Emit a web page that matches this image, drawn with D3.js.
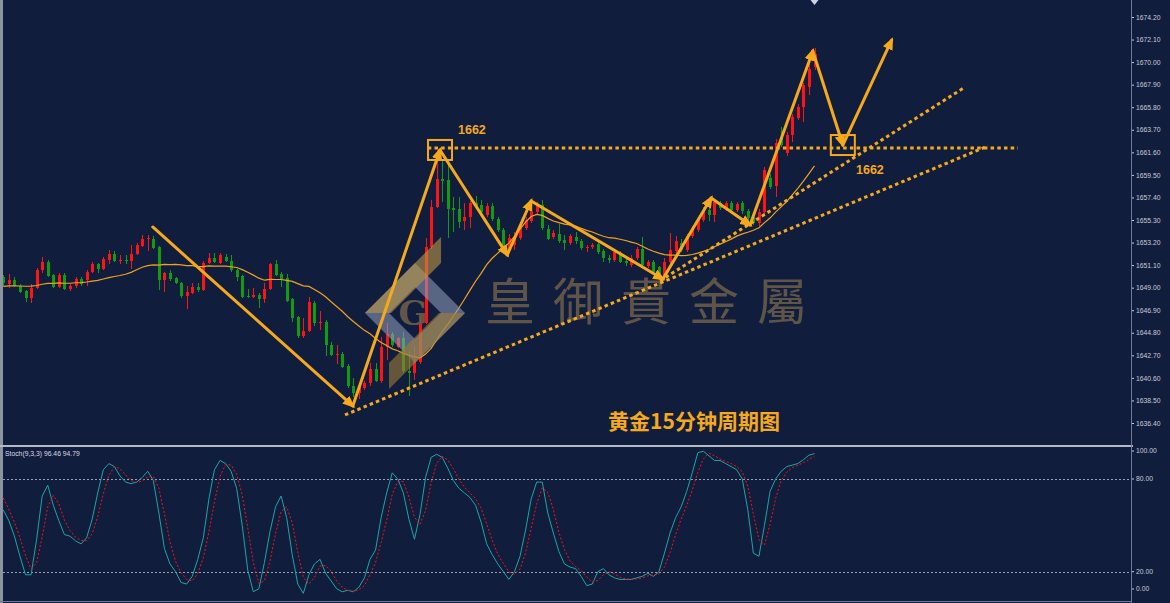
<!DOCTYPE html>
<html>
<head>
<meta charset="utf-8">
<script src="https://d3js.org/d3.v7.min.js"></script>
<style>
html, body { margin: 0; padding: 0; background: #111d3d; }
svg { display: block; }
</style>
</head>
<body>
<div id="chart"></div>
<script>
/*
 gold 15 minute chart : candles + MA(20) + Stoch(9,3,3) and hand drawn wave marks
*/

// [open, high, low, close] per 15 min bar
const bars = [
    [1650.0, 1650.2, 1649.2, 1649.4], [1649.35, 1650.3, 1649.0, 1649.7], [1649.7, 1650.0, 1649.1, 1649.2],
    [1649.2, 1649.3, 1648.5, 1648.6], [1648.7, 1648.8, 1647.7, 1648.0], [1648.0, 1649.3, 1647.6, 1649.0],
    [1649.0, 1650.8, 1648.9, 1650.6], [1650.6, 1651.9, 1650.4, 1651.4], [1651.4, 1651.6, 1650.0, 1650.1],
    [1650.2, 1650.3, 1649.0, 1649.1], [1649.1, 1650.4, 1649.0, 1650.2], [1650.2, 1650.4, 1648.8, 1648.9],
    [1648.9, 1649.3, 1648.7, 1649.2], [1649.2, 1650.0, 1649.0, 1649.8], [1649.8, 1650.0, 1649.2, 1649.3],
    [1649.7, 1650.6, 1649.2, 1650.5], [1650.5, 1651.4, 1650.4, 1651.2], [1651.2, 1651.3, 1650.4, 1650.7],
    [1650.7, 1651.9, 1650.6, 1651.7], [1651.6, 1652.5, 1651.2, 1652.1], [1652.1, 1652.4, 1651.4, 1651.5],
    [1651.5, 1652.0, 1651.2, 1651.6], [1651.6, 1652.0, 1651.2, 1651.5], [1651.5, 1653.0, 1650.7, 1652.1],
    [1652.1, 1653.2, 1652.0, 1653.0], [1652.9, 1653.9, 1652.8, 1653.5], [1653.5, 1653.9, 1652.4, 1653.6],
    [1653.5, 1653.8, 1652.6, 1652.7], [1652.8, 1652.9, 1648.8, 1649.7], [1649.7, 1650.5, 1648.6, 1650.4],
    [1650.4, 1650.6, 1649.6, 1649.8], [1649.9, 1650.0, 1649.3, 1649.4], [1649.4, 1649.5, 1648.0, 1648.2],
    [1648.2, 1649.2, 1647.0, 1648.6], [1648.5, 1649.4, 1648.4, 1649.1], [1649.1, 1649.4, 1648.6, 1648.8],
    [1648.8, 1651.5, 1648.7, 1651.3], [1651.3, 1652.2, 1651.2, 1651.8], [1651.8, 1652.2, 1651.3, 1651.4],
    [1651.3, 1652.2, 1651.2, 1652.0], [1651.9, 1652.1, 1651.4, 1651.5], [1651.5, 1652.0, 1650.5, 1650.6],
    [1650.6, 1650.7, 1649.6, 1650.0], [1650.1, 1650.2, 1648.0, 1648.1], [1648.2, 1648.9, 1648.0, 1648.1],
    [1648.1, 1649.0, 1648.0, 1648.3], [1648.3, 1648.5, 1647.1, 1647.9], [1647.9, 1649.4, 1647.6, 1648.9],
    [1648.9, 1651.3, 1648.8, 1651.2], [1651.2, 1651.6, 1650.1, 1650.2], [1650.3, 1650.5, 1649.1, 1649.8],
    [1649.9, 1650.3, 1647.7, 1647.8], [1647.9, 1648.0, 1645.8, 1646.2], [1646.3, 1646.4, 1644.3, 1644.5],
    [1644.5, 1646.2, 1644.3, 1645.0], [1645.0, 1648.1, 1644.9, 1647.7], [1647.6, 1647.8, 1645.4, 1645.7],
    [1645.7, 1646.8, 1645.1, 1645.8], [1645.8, 1646.0, 1642.6, 1643.7], [1643.7, 1643.9, 1642.6, 1642.7],
    [1642.7, 1643.7, 1641.9, 1642.8], [1642.8, 1643.0, 1641.5, 1641.6], [1641.7, 1641.9, 1639.7, 1639.8],
    [1639.8, 1640.6, 1638.8, 1639.2], [1639.2, 1640.0, 1638.6, 1639.9], [1639.7, 1640.3, 1639.5, 1640.1],
    [1640.1, 1642.0, 1639.8, 1641.4], [1641.4, 1642.0, 1640.2, 1640.3], [1640.3, 1644.4, 1640.1, 1643.5],
    [1643.5, 1645.7, 1642.3, 1644.7], [1644.7, 1644.9, 1643.5, 1643.7], [1643.5, 1644.4, 1643.4, 1644.3],
    [1644.3, 1644.9, 1641.1, 1641.2], [1641.2, 1643.0, 1638.9, 1641.1], [1641.1, 1643.5, 1640.4, 1642.1],
    [1642.1, 1646.3, 1641.9, 1645.7], [1645.7, 1653.6, 1645.6, 1652.8], [1652.8, 1657.2, 1652.6, 1656.5],
    [1656.5, 1661.8, 1656.4, 1659.1], [1659.1, 1660.9, 1657.0, 1658.9], [1659.0, 1660.9, 1653.6, 1656.3],
    [1656.4, 1657.4, 1654.2, 1656.2], [1656.3, 1657.4, 1654.6, 1655.1], [1655.2, 1656.9, 1654.4, 1655.6],
    [1655.6, 1657.1, 1654.6, 1656.9], [1656.9, 1657.5, 1656.4, 1656.5], [1656.7, 1657.2, 1655.8, 1656.0],
    [1655.8, 1656.9, 1655.6, 1656.6], [1656.6, 1656.9, 1655.2, 1655.4], [1655.4, 1655.6, 1654.2, 1654.4],
    [1654.4, 1654.6, 1652.5, 1653.0], [1652.6, 1654.0, 1652.2, 1653.6], [1653.0, 1654.2, 1652.5, 1653.6],
    [1653.6, 1655.0, 1653.4, 1654.7], [1654.6, 1655.6, 1654.4, 1655.3], [1655.2, 1656.6, 1655.0, 1656.1],
    [1656.0, 1657.0, 1655.8, 1656.7], [1656.7, 1657.2, 1654.4, 1654.6], [1654.5, 1654.8, 1653.4, 1653.5],
    [1653.7, 1654.4, 1653.5, 1654.1], [1654.0, 1654.9, 1653.2, 1653.3], [1653.4, 1653.9, 1652.5, 1653.2],
    [1653.2, 1654.0, 1653.0, 1653.8], [1653.7, 1654.2, 1653.1, 1653.3], [1653.3, 1653.5, 1652.5, 1652.7],
    [1652.7, 1653.0, 1652.3, 1652.8], [1652.8, 1653.2, 1652.6, 1653.0], [1653.1, 1653.4, 1652.1, 1652.3],
    [1652.4, 1652.6, 1651.4, 1651.8], [1651.8, 1652.0, 1651.3, 1651.6], [1651.6, 1652.5, 1651.4, 1652.3],
    [1652.2, 1652.4, 1651.3, 1651.4], [1651.5, 1651.8, 1651.0, 1651.3], [1651.1, 1652.0, 1650.9, 1651.8],
    [1651.8, 1652.8, 1651.6, 1652.6], [1652.6, 1653.7, 1650.9, 1651.1], [1651.0, 1651.6, 1650.8, 1651.4],
    [1651.4, 1651.6, 1650.2, 1650.5], [1650.9, 1651.0, 1649.7, 1649.9], [1650.0, 1651.8, 1649.8, 1651.4],
    [1651.4, 1654.1, 1651.2, 1652.5], [1652.4, 1653.8, 1652.2, 1653.3], [1653.2, 1653.5, 1652.3, 1652.5],
    [1652.5, 1654.0, 1652.3, 1653.8], [1653.8, 1654.7, 1653.6, 1654.5], [1654.4, 1655.5, 1654.2, 1655.3],
    [1655.3, 1656.5, 1655.1, 1656.2], [1656.2, 1656.5, 1655.2, 1655.8], [1655.8, 1657.2, 1655.1, 1657.0],
    [1656.9, 1657.1, 1656.2, 1656.4], [1656.3, 1657.1, 1656.1, 1656.9], [1656.9, 1657.1, 1656.0, 1656.2],
    [1656.2, 1657.0, 1656.0, 1656.8], [1656.9, 1657.1, 1655.9, 1656.1], [1656.1, 1656.3, 1655.2, 1655.5],
    [1655.6, 1655.8, 1654.8, 1655.0], [1655.0, 1656.3, 1654.7, 1656.0], [1656.0, 1660.2, 1655.8, 1660.0],
    [1659.2, 1659.6, 1658.2, 1658.4], [1658.5, 1662.8, 1657.4, 1662.5], [1662.9, 1664.0, 1662.1, 1662.3],
    [1661.5, 1663.5, 1661.3, 1663.2], [1663.2, 1665.2, 1662.6, 1664.9], [1664.8, 1666.1, 1664.6, 1665.8],
    [1665.8, 1668.1, 1664.4, 1667.9], [1667.7, 1669.8, 1666.9, 1669.4], [1669.5, 1671.3, 1669.3, 1670.8]
];

// closes before the first visible bar, only needed to warm up the MA(20)
const priorCloses = [1648.9, 1649.2, 1648.7, 1648.5, 1648.9, 1649.3, 1649.0, 1648.6, 1648.9, 1649.4,
    1649.6, 1649.2, 1648.8, 1649.0, 1649.4, 1649.7, 1649.3, 1649.1, 1649.5];
const maPeriod = 20;

// stochastic %K per bar (main line), %D is its 3 bar mean
const stochK = [
    60, 53, 43, 30, 18, 18, 41, 69, 76, 63,
    53, 44, 43, 40, 38, 42, 54, 71, 86, 90,
    88, 82, 78, 77, 78, 81, 85, 79, 58, 35,
    25, 20, 13, 12, 17, 28, 42, 67, 86, 92,
    90, 85, 74, 50, 21, 7, 9, 26, 46, 62,
    69, 55, 31, 12, 6, 18, 25, 28, 19, 14,
    9, 7, 8, 7, 10, 16, 28, 34, 55, 71,
    84, 80, 71, 54, 41, 57, 81, 94, 96, 94,
    87, 79, 74, 71, 68, 63, 52, 38, 31, 25,
    20, 15, 20, 30, 47, 67, 78, 78, 58, 45,
    33, 25, 23, 22, 17, 11, 12, 20, 22, 18,
    16, 15, 15, 15, 16, 17, 19, 17, 20, 32,
    45, 55, 62, 72, 84, 97, 98, 95, 92, 92,
    90, 88, 86, 80, 60, 32, 30, 50, 72, 80,
    85, 88, 89, 90, 92.5, 95.4, 96.46
];
const priorK = [75, 68];

const priceTicks = [1636.40, 1638.50, 1640.60, 1642.70, 1644.80, 1646.90, 1649.00, 1651.10, 1653.20,
    1655.30, 1657.40, 1659.50, 1661.60, 1663.70, 1665.80, 1667.90, 1670.00, 1672.10, 1674.20];
const stochTicks = [100, 80, 20, 0];
const stochLevels = [80, 20];

// hand drawn wave path, [bar index, price]
const wavePoints = [
    [26.9, 1654.65], [62.9, 1637.99], [78.6, 1661.82], [90.7, 1652.05], [95.0, 1657.07],
    [118.7, 1649.81], [127.4, 1657.35], [134.4, 1654.84], [145.7, 1671.03], [151.1, 1662.28],
    [159.9, 1672.06]
];
const levelPrice = 1662;
const levelRange = [76.4, 182.6];
// dotted trend lines, [[bar, price], [bar, price]]
const trendLines = [
    [[61.5, 1637.15], [177.2, 1662.19]],
    [[118.2, 1649.63], [173.1, 1667.68]]
];
// boxes sit on these wave points
const boxPoints = [2, 9];
const levelLabel = "1662";
const titleText = "黄金15分钟周期图";
const brandText = "皇御貴金屬";
const stochTitle = "Stoch(9,3,3) 96.46 94.79";

//////////////// draw ////////////////
const W = 1170, H = 603;
const bg = "#111d3d";
const orange = "#f5a91c";
const upColor = "#ff1414", downColor = "#139a13";
const axisX = 1131;
const mainTop = 0, mainBottom = 446, subTop = 448, subBottom = 601;

const svg = d3.select("#chart").append("svg")
    .attr("width", W)
    .attr("height", H);

svg.append("rect").attr("width", W).attr("height", H).attr("fill", bg);

// scales
const x = d3.scaleLinear().domain([0, bars.length - 1]).range([3.3, 814.5]);
const y = d3.scaleLinear().domain([1636.40, 1674.20]).range([423, 17]);
const ys = d3.scaleLinear().domain([0, 100]).range([602.6, 448.1]);

// clip for the main window
const defs = svg.append("defs");
defs.append("clipPath").attr("id", "mainClip")
    .append("rect").attr("x", 3).attr("y", 0).attr("width", axisX - 3).attr("height", mainBottom);
defs.append("clipPath").attr("id", "subClip")
    .append("rect").attr("x", 3).attr("y", subTop).attr("width", axisX - 3).attr("height", subBottom - subTop);

// arrow head
defs.append("marker")
    .attr("id", "arrowHead")
    .attr("viewBox", "0 0 12 10")
    .attr("refX", 9)
    .attr("refY", 5)
    .attr("markerWidth", 4.2)
    .attr("markerHeight", 3.5)
    .attr("orient", "auto")
    .append("path")
    .attr("d", "M0,0L12,5L0,10z")
    .attr("fill", orange);

const main = svg.append("g").attr("clip-path", "url(#mainClip)");

//candles
const candle = main.append("g").attr("shape-rendering", "crispEdges")
    .selectAll("g").data(bars).enter().append("g");

candle.append("line")
    .attr("x1", (d, i) => Math.round(x(i)) + 0.5)
    .attr("x2", (d, i) => Math.round(x(i)) + 0.5)
    .attr("y1", d => y(d[1]))
    .attr("y2", d => y(d[2]))
    .attr("stroke", d => d[3] >= d[0] ? upColor : downColor)
    .attr("stroke-width", 1);

candle.append("rect")
    .attr("x", (d, i) => Math.round(x(i)) - 1)
    .attr("y", d => y(Math.max(d[0], d[3])))
    .attr("width", 3)
    .attr("height", d => Math.max(1, Math.abs(y(d[0]) - y(d[3]))))
    .attr("fill", d => d[3] >= d[0] ? upColor : downColor);

//moving average
const allCloses = priorCloses.concat(bars.map(d => d[3]));
const ma = bars.map((d, i) => d3.mean(allCloses.slice(i, i + maPeriod)));

main.append("path")
    .datum(ma)
    .attr("fill", "none")
    .attr("stroke", "#f0a21e")
    .attr("stroke-width", 1.2)
    .attr("d", d3.line().x((d, i) => x(i)).y(d => y(d)));

//watermark logo + brand name
const logo = main.append("g");
const cx = 415, cy = 313;
logo.append("path")
    .attr("d", `M${cx - 50},${cy} L${cx},${cy - 50} L${cx + 50},${cy} L${cx},${cy + 50} Z
                M${cx - 26},${cy} L${cx},${cy + 26} L${cx + 26},${cy} L${cx},${cy - 26} Z`)
    .attr("fill", "rgba(150,162,190,0.55)")
    .attr("fill-rule", "evenodd");
logo.append("polygon")
    .attr("points", [[cx + 26, cy - 76], [cx + 26, cy - 50], [cx - 24, cy], [cx - 50, cy]].join(" "))
    .attr("fill", "rgba(190,150,70,0.6)");
logo.append("polygon")
    .attr("points", [[cx - 26, cy + 76], [cx - 26, cy + 50], [cx + 24, cy], [cx + 50, cy]].join(" "))
    .attr("fill", "rgba(160,125,55,0.6)");
logo.append("text")
    .attr("x", cx - 2)
    .attr("y", cy + 12)
    .attr("text-anchor", "middle")
    .style("font-family", "DejaVu Serif")
    .style("font-weight", "bold")
    .style("font-size", "34px")
    .attr("fill", "rgba(110,95,75,0.9)")
    .text("G");

main.append("text")
    .attr("x", 485)
    .attr("y", 320)
    .style("font-family", "'Noto Sans CJK TC'")
    .style("font-size", "50px")
    .style("letter-spacing", "18px")
    .attr("fill", "#5f5448")
    .text(brandText);

//dotted level + trend lines
const dotted = main.append("g")
    .attr("stroke", orange)
    .attr("stroke-width", 3)
    .attr("stroke-dasharray", "3.5,3.2");

dotted.append("line")
    .attr("x1", x(levelRange[0])).attr("x2", x(levelRange[1]))
    .attr("y1", y(levelPrice)).attr("y2", y(levelPrice));

dotted.selectAll(".trend").data(trendLines).enter().append("line")
    .attr("class", "trend")
    .attr("x1", d => x(d[0][0])).attr("y1", d => y(d[0][1]))
    .attr("x2", d => x(d[1][0])).attr("y2", d => y(d[1][1]));

//wave arrows
const segs = d3.pairs(wavePoints);
main.selectAll(".wave").data(segs).enter().append("line")
    .attr("class", "wave")
    .attr("x1", d => x(d[0][0])).attr("y1", d => y(d[0][1]))
    .attr("x2", d => x(d[1][0])).attr("y2", d => y(d[1][1]))
    .attr("stroke", orange)
    .attr("stroke-width", 3)
    .attr("stroke-linecap", "round")
    .attr("marker-end", "url(#arrowHead)");

//boxes
main.selectAll(".box").data(boxPoints).enter().append("rect")
    .attr("class", "box")
    .attr("x", d => x(wavePoints[d][0]) - 12)
    .attr("y", d => y(wavePoints[d][1]) - 10)
    .attr("width", 24)
    .attr("height", 20)
    .attr("fill", "none")
    .attr("stroke", orange)
    .attr("stroke-width", 2);

//labels
main.append("text")
    .attr("x", 458).attr("y", 134)
    .attr("fill", orange)
    .style("font-family", "'Liberation Sans', Arial")
    .style("font-weight", "bold")
    .style("font-size", "12.5px")
    .text(levelLabel);
main.append("text")
    .attr("x", 856).attr("y", 174)
    .attr("fill", orange)
    .style("font-family", "'Liberation Sans', Arial")
    .style("font-weight", "bold")
    .style("font-size", "12.5px")
    .text(levelLabel);

main.append("text")
    .attr("x", 694).attr("y", 429)
    .attr("text-anchor", "middle")
    .attr("fill", orange)
    .style("font-family", "'Noto Sans CJK SC'")
    .style("font-weight", "bold")
    .style("font-size", "21px")
    .text(titleText);

//shift marker on top
svg.append("path")
    .attr("d", `M${x(bars.length - 1) - 4},0 L${x(bars.length - 1) + 4},0 L${x(bars.length - 1)},5 Z`)
    .attr("fill", "#d0d4dc");

//price axis
const yAxis = svg.append("g")
    .attr("transform", `translate(${axisX},0)`)
    .call(d3.axisRight(y).tickValues(priceTicks).tickFormat(d3.format(".2f")).tickSize(3));
yAxis.select(".domain").remove();
yAxis.selectAll("line").attr("stroke", "#c8ccd6");
yAxis.selectAll("text")
    .attr("x", 5)
    .attr("fill", "#c8ccd6")
    .style("font-family", "'Liberation Sans', Arial")
    .style("font-size", "6.8px");

////////////// stochastic window //////////////
const sub = svg.append("g").attr("clip-path", "url(#subClip)");

sub.selectAll(".lvl").data(stochLevels).enter().append("line")
    .attr("class", "lvl")
    .attr("x1", 3).attr("x2", axisX)
    .attr("y1", d => Math.round(ys(d)) + 0.5).attr("y2", d => Math.round(ys(d)) + 0.5)
    .attr("stroke", "#9aa1b0")
    .attr("stroke-width", 1)
    .attr("stroke-dasharray", "2,2");

const allK = priorK.concat(stochK);
const stochD = stochK.map((d, i) => d3.mean(allK.slice(i, i + 3)));

sub.append("path")
    .datum(stochK)
    .attr("fill", "none")
    .attr("stroke", "#1fa6a6")
    .attr("stroke-width", 1)
    .attr("d", d3.line().x((d, i) => x(i)).y(d => ys(d)));

sub.append("path")
    .datum(stochD)
    .attr("fill", "none")
    .attr("stroke", "#ff1010")
    .attr("stroke-width", 1)
    .attr("stroke-dasharray", "2,2")
    .attr("d", d3.line().x((d, i) => x(i)).y(d => ys(d)));

svg.append("text")
    .attr("x", 5).attr("y", 456)
    .attr("fill", "#d8dce4")
    .style("font-family", "'Liberation Sans', Arial")
    .style("font-size", "6.8px")
    .text(stochTitle);

const sAxis = svg.append("g")
    .attr("transform", `translate(${axisX},0)`)
    .call(d3.axisRight(ys).tickValues(stochTicks).tickFormat(d3.format(".2f")).tickSize(3));
sAxis.select(".domain").remove();
sAxis.selectAll("line").attr("stroke", "#c8ccd6");
sAxis.selectAll(".tick").attr("transform", d => `translate(0,${Math.min(Math.max(ys(d), 451), 589)})`);
sAxis.selectAll("text")
    .attr("x", 5)
    .attr("fill", "#c8ccd6")
    .style("font-family", "'Liberation Sans', Arial")
    .style("font-size", "6.8px");

//frames
svg.append("rect").attr("x", 0).attr("y", 0).attr("width", 3).attr("height", H).attr("fill", "#8c93a3");
svg.append("rect").attr("x", 0).attr("y", mainBottom - 1).attr("width", axisX + 2).attr("height", 2).attr("fill", "#b4b9c4");
svg.append("line").attr("x1", axisX + 0.5).attr("x2", axisX + 0.5).attr("y1", 0).attr("y2", H)
    .attr("stroke", "#6f7990").attr("stroke-width", 1);
svg.append("line").attr("x1", 0).attr("x2", axisX).attr("y1", subBottom + 0.5).attr("y2", subBottom + 0.5)
    .attr("stroke", "#6f7990").attr("stroke-width", 1);
</script>
</body>
</html>
